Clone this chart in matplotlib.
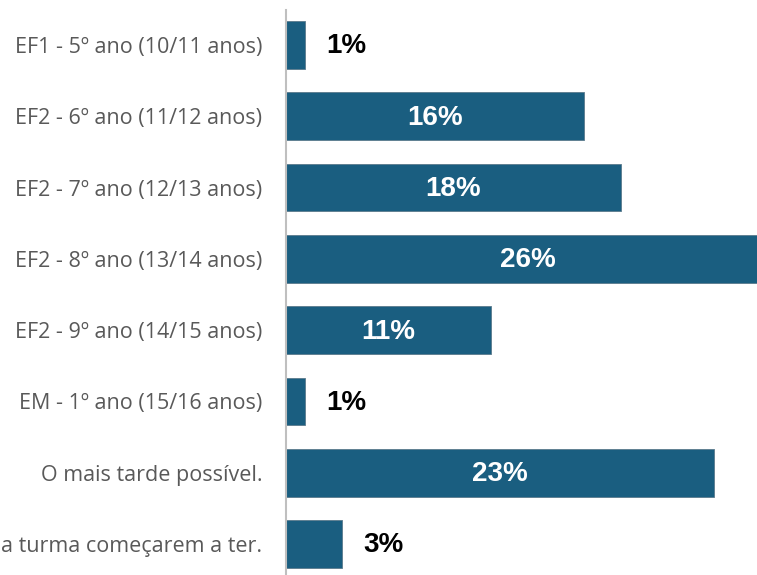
import matplotlib
matplotlib.use("Agg")
import matplotlib.pyplot as plt

categories = [
    "EF1 - 5º ano (10/11 anos)",
    "EF2 - 6º ano (11/12 anos)",
    "EF2 - 7º ano (12/13 anos)",
    "EF2 - 8º ano (13/14 anos)",
    "EF2 - 9º ano (14/15 anos)",
    "EM - 1º ano (15/16 anos)",
    "O mais tarde possível.",
    "Quando os colegas da turma começarem a ter.",
]
values = [1, 16, 18, 26, 11, 1, 23, 3]

BAR_COLOR = "#1a5e80"
W, H, DPI = 757, 575, 100

fig = plt.figure(figsize=(W / DPI, H / DPI), dpi=DPI)
ax = fig.add_axes([286 / W, 0.0, 1 - 286 / W, 1 - 10 / H])

ypos = list(range(len(categories)))
ax.barh(ypos, values, height=0.67, color=BAR_COLOR, edgecolor="#5a7a8c", linewidth=0.6)

ax.set_xlim(0, 25.32)
ax.set_ylim(7.435, -0.49)
ax.set_yticks(ypos)
ax.set_yticklabels(categories, fontsize=15.5, color="#595959", family="Open Sans")
ax.tick_params(axis="y", length=0, pad=17)
ax.set_xticks([])

for side in ["top", "right", "bottom"]:
    ax.spines[side].set_visible(False)
ax.spines["left"].set_color("#bfbfbf")
ax.spines["left"].set_linewidth(1.5)

for y, v in zip(ypos, values):
    label = f"{v}%"
    if v >= 5:
        ax.text(v / 2, y + 0.02, label, ha="center", va="center", color="white",
                fontsize=20, fontweight="bold", family="Liberation Sans")
    else:
        ax.annotate(label, xy=(v, y + 0.02), xytext=(22, 0), textcoords="offset pixels",
                    ha="left", va="center", color="black",
                    fontsize=20, fontweight="bold", family="Liberation Sans")

fig.savefig("out.png", dpi=DPI)
